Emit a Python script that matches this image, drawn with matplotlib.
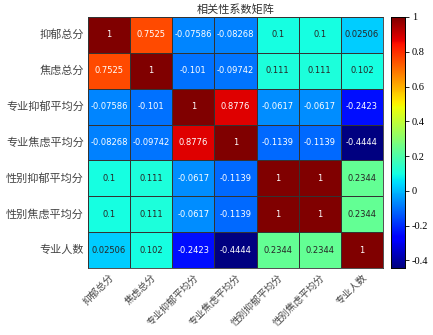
import numpy as np
import pandas as pd
import matplotlib
matplotlib.use("Agg")
import matplotlib.pyplot as plt
import seaborn as sns

#   correlation matrix heatmap

labels = ["抑郁总分", "焦虑总分", "专业抑郁平均分", "专业焦虑平均分",
          "性别抑郁平均分", "性别焦虑平均分", "专业人数"]

row_1 = [1, 0.7525, -0.07586, -0.08268, 0.1, 0.1, 0.02506]
row_2 = [0.7525, 1, -0.101, -0.09742, 0.111, 0.111, 0.102]
row_3 = [-0.07586, -0.101, 1, 0.8776, -0.0617, -0.0617, -0.2423]
row_4 = [-0.08268, -0.09742, 0.8776, 1, -0.1139, -0.1139, -0.4444]
row_5 = [0.1, 0.111, -0.0617, -0.1139, 1, 1, 0.2344]
row_6 = [0.1, 0.111, -0.0617, -0.1139, 1, 1, 0.2344]
row_7 = [0.02506, 0.102, -0.2423, -0.4444, 0.2344, 0.2344, 1]

cb_ticks = [-0.4, -0.2, 0, 0.2, 0.4, 0.6, 0.8, 1]

df = pd.DataFrame([row_1, row_2, row_3, row_4, row_5, row_6, row_7],
                  index=labels, columns=labels)

plt.rcParams['font.family'] = ['Noto Sans CJK SC', 'DejaVu Sans']
plt.rcParams['axes.unicode_minus'] = False

fig = plt.figure(figsize=(4.33, 3.35), dpi=100)
ax = fig.add_axes([88 / 433, 1 - 268 / 335, 295 / 433, 251 / 335])
cax = fig.add_axes([391 / 433, 1 - 268 / 335, 14 / 433, 251 / 335])

sns.heatmap(df, ax=ax, cbar_ax=cax, cmap='jet', vmin=df.values.min(), vmax=1,
            annot=True, fmt='.4g', annot_kws={'size': 6, 'family': 'DejaVu Sans'},
            linewidths=0.6, linecolor='#333333')

ax.set_title('相关性系数矩阵', fontsize=8, color='#333333', pad=3)
ax.set_xticklabels(labels, rotation=45, ha='right', rotation_mode='anchor',
                   fontsize=7, color='#444444')
ax.set_yticklabels(labels, rotation=0, fontsize=8, color='#444444')
ax.tick_params(axis='y', length=0, pad=3)
ax.tick_params(axis='x', length=0, pad=3)
for s in ax.spines.values():
    s.set_visible(True)
    s.set_color('#333333')
    s.set_linewidth(0.6)

cax.set_yticks(cb_ticks)
cax.set_yticklabels([f'{t:g}' for t in cb_ticks], family='Liberation Serif', fontsize=7.5)
cax.tick_params(length=3, width=0.6, pad=2)
for s in cax.spines.values():
    s.set_visible(True)
    s.set_linewidth(0.6)

fig.savefig('out.png', dpi=100)
